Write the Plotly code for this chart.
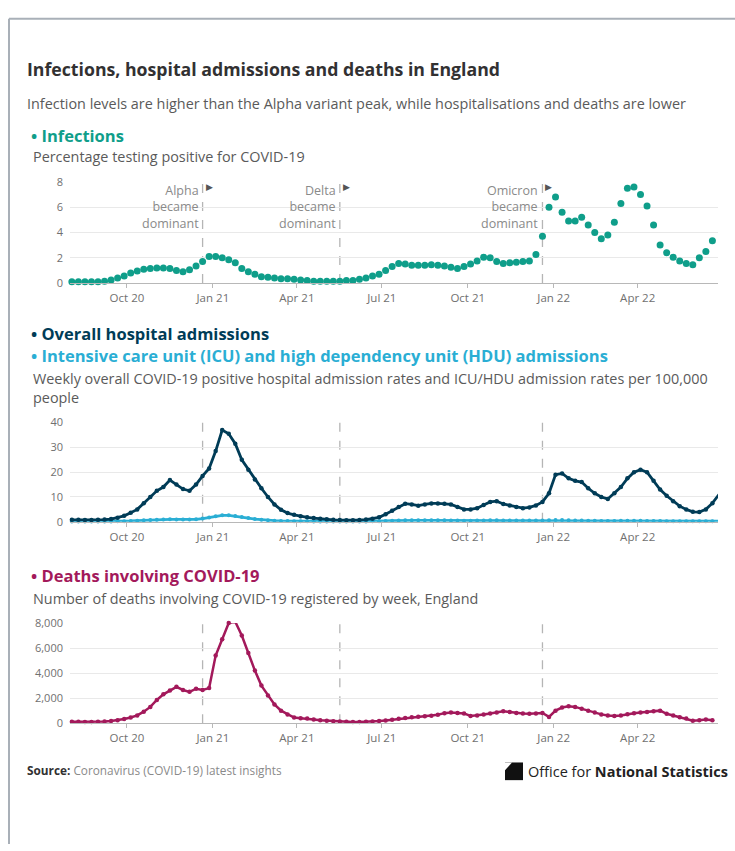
import pandas as pd
import plotly.graph_objects as go

W, H = 735, 851

# ---------------- data ----------------
start_date = "2020-08-03"

infections_pct = [
    0.1, 0.1, 0.1, 0.1, 0.1, 0.15, 0.25, 0.4, 0.55, 0.8,
    0.95, 1.1, 1.15, 1.2, 1.2, 1.15, 1.0, 0.9, 1.05, 1.35,
    1.7, 2.1, 2.1, 2.0, 1.85, 1.6, 1.15, 0.9, 0.7, 0.5,
    0.45, 0.4, 0.35, 0.35, 0.3, 0.25, 0.2, 0.15, 0.15, 0.15,
    0.15, 0.15, 0.2, 0.2, 0.3, 0.4, 0.55, 0.7, 1.0, 1.3,
    1.55, 1.5, 1.4, 1.4, 1.4, 1.45, 1.4, 1.35, 1.25, 1.15,
    1.3, 1.5, 1.75, 2.05, 2.0, 1.7, 1.55, 1.6, 1.65, 1.7,
    1.75, 2.25, 3.7, 6.0, 6.8, 5.6, 4.9, 4.9, 5.2, 4.6,
    4.0, 3.5, 3.8, 4.8, 6.3, 7.5, 7.6, 7.0, 6.1, 4.6,
    3.0, 2.4, 2.05, 1.75, 1.55, 1.45, 2.0, 2.5, 3.35,
]

hospital_rate = [
    0.8, 0.8, 0.7, 0.7, 0.8, 0.9, 1.1, 1.6, 2.4, 3.6,
    5.0, 7.5, 10.0, 12.5, 14.0, 16.8, 15.0, 13.2, 12.5, 15.0,
    18.5, 21.5, 28.5, 37.0, 35.5, 31.5, 25.0, 21.0, 17.0, 13.5,
    10.0, 7.0, 4.8, 3.5, 2.8, 2.2, 1.8, 1.5, 1.2, 1.0,
    0.8, 0.7, 0.6, 0.6, 0.7, 0.9, 1.2, 1.8, 3.0, 4.4,
    6.0, 7.3, 7.0, 6.5, 7.0, 7.4, 7.4, 7.3, 7.0, 6.0,
    5.0, 5.0, 5.5, 6.8, 8.0, 8.3, 7.2, 6.6, 6.0, 5.5,
    5.8, 6.6, 8.0, 11.5, 19.0, 19.5, 17.5, 16.5, 16.0, 13.5,
    11.5, 10.0, 9.2, 11.5, 14.0, 17.5, 20.0, 21.0, 20.0, 16.5,
    13.0, 10.5, 8.3, 6.3, 5.0, 4.0, 3.9, 5.0, 7.5, 11.0,
]

icu_rate = [
    0.1, 0.1, 0.1, 0.1, 0.1, 0.1, 0.15, 0.2, 0.25, 0.35,
    0.45, 0.6, 0.75, 0.85, 0.9, 1.0, 0.95, 0.9, 0.9, 1.0,
    1.3, 1.7, 2.2, 2.6, 2.6, 2.3, 1.9, 1.5, 1.1, 0.8,
    0.6, 0.45, 0.35, 0.3, 0.25, 0.2, 0.2, 0.15, 0.15, 0.15,
    0.1, 0.1, 0.1, 0.1, 0.1, 0.15, 0.2, 0.25, 0.35, 0.45,
    0.55, 0.6, 0.6, 0.6, 0.6, 0.6, 0.6, 0.6, 0.55, 0.5,
    0.45, 0.45, 0.5, 0.55, 0.6, 0.6, 0.55, 0.5, 0.5, 0.5,
    0.5, 0.5, 0.5, 0.6, 0.7, 0.7, 0.6, 0.55, 0.5, 0.45,
    0.4, 0.35, 0.35, 0.35, 0.4, 0.4, 0.4, 0.4, 0.35, 0.3,
    0.3, 0.25, 0.2, 0.2, 0.2, 0.2, 0.2, 0.2, 0.25, 0.3,
]

deaths_weekly = [
    120, 110, 100, 100, 110, 130, 170, 230, 330, 450,
    620, 920, 1300, 1850, 2300, 2600, 2900, 2650, 2500, 2750,
    2650, 2800, 5400, 6700, 8000, 8100, 7000, 5600, 4200, 3000,
    2200, 1500, 1000, 700, 450, 400, 380, 300, 230, 200,
    160, 140, 120, 100, 100, 110, 130, 170, 220, 280,
    350, 420, 480, 520, 560, 600, 680, 800, 850, 820,
    780, 580, 620, 700, 780, 860, 950, 900, 820, 780,
    760, 780, 820, 500, 1000, 1250, 1350, 1300, 1150, 1000,
    850, 700, 620, 580, 620, 720, 800, 850, 900, 950,
    1000, 750, 620, 480, 380, 200, 230, 300, 230,
]

infection_dates = pd.date_range(start_date, periods=len(infections_pct), freq="7D")
hospital_dates = pd.date_range(start_date, periods=len(hospital_rate), freq="7D")
deaths_dates = pd.date_range(start_date, periods=len(deaths_weekly), freq="7D")

tick_dates = ["2020-10-01", "2021-01-01", "2021-04-01", "2021-07-01",
              "2021-10-01", "2022-01-01", "2022-04-01"]
tick_labels = ["Oct 20", "Jan 21", "Apr 21", "Jul 21", "Oct 21", "Jan 22", "Apr 22"]

variant_dates = ["2020-12-21", "2021-05-17", "2021-12-20"]
variant_names = ["Alpha", "Delta", "Omicron"]

inf_ticks = [0, 2, 4, 6, 8]
hosp_ticks = [0, 10, 20, 30, 40]
death_ticks = [0, 2000, 4000, 6000, 8000]

# ---------------- styling ----------------
FONT = "Open Sans"
C_INF = "#0f9e8a"
C_HOSP = "#003c57"
C_ICU = "#2aaed4"
C_DEATH = "#a3195b"
C_TEXT = "#323132"
C_SUB = "#5a5a5a"
C_TICK = "#707070"
C_GRID = "#e9e9e9"
C_AXIS = "#b8b8b8"


def fx(px):
    return px / W


def fy(py):
    return 1 - py / H


fig = go.Figure()

fig.add_trace(go.Scatter(
    x=infection_dates, y=infections_pct, mode="markers",
    marker=dict(size=7, color=C_INF), xaxis="x", yaxis="y",
    cliponaxis=False, showlegend=False, name="Infections"))

fig.add_trace(go.Scatter(
    x=hospital_dates, y=icu_rate, mode="lines+markers",
    line=dict(color=C_ICU, width=2.8), marker=dict(size=4, color=C_ICU),
    xaxis="x2", yaxis="y2", cliponaxis=False, showlegend=False, name="ICU/HDU"))

fig.add_trace(go.Scatter(
    x=hospital_dates, y=hospital_rate, mode="lines+markers",
    line=dict(color=C_HOSP, width=2.8), marker=dict(size=4.5, color=C_HOSP),
    xaxis="x2", yaxis="y2", cliponaxis=False, showlegend=False, name="Overall"))

fig.add_trace(go.Scatter(
    x=deaths_dates, y=deaths_weekly, mode="lines+markers",
    line=dict(color=C_DEATH, width=2.5), marker=dict(size=4.5, color=C_DEATH),
    xaxis="x3", yaxis="y3", cliponaxis=False, showlegend=False, name="Deaths"))

x_range = ["2020-08-01", "2022-06-26"]
x_dom = [fx(70), fx(718)]


def xaxis(anchor):
    return dict(domain=x_dom, range=x_range, anchor=anchor, type="date",
                tickvals=tick_dates, ticktext=tick_labels,
                showgrid=False, showline=True, linecolor=C_AXIS, linewidth=1,
                ticks="outside", ticklen=4, tickcolor=C_AXIS,
                tickfont=dict(family=FONT, size=11.5, color=C_TICK),
                zeroline=False, fixedrange=True)


def yaxis(anchor, rng, dom, tickvals, ticktext):
    return dict(domain=dom, range=rng, anchor=anchor,
                tickvals=tickvals, ticktext=ticktext,
                showgrid=True, gridcolor=C_GRID, gridwidth=1,
                showline=False, zeroline=False, ticks="",
                ticklabelstandoff=6,
                tickfont=dict(family=FONT, size=11, color=C_TICK),
                fixedrange=True)


fig.update_layout(
    width=W, height=H, margin=dict(l=0, r=0, t=0, b=0),
    paper_bgcolor="white", plot_bgcolor="white",
    xaxis=xaxis("y"),
    xaxis2=xaxis("y2"),
    xaxis3=xaxis("y3"),
    yaxis=yaxis("x", [0, 8], [fy(280), fy(177)], inf_ticks,
                [str(v) for v in inf_ticks]),
    yaxis2=yaxis("x2", [0, 40], [fy(523), fy(422)], hosp_ticks,
                 [str(v) for v in hosp_ticks]),
    yaxis3=yaxis("x3", [0, 8000], [fy(728), fy(626)], death_ticks,
                  [f"{v:,}" for v in death_ticks]),
)

shapes = []
annotations = []

# dashed variant lines
for xr, yr in [("x", "y domain"), ("x2", "y2 domain"), ("x3", "y3 domain")]:
    for d in variant_dates:
        shapes.append(dict(type="line", xref=xr, yref=yr, x0=d, x1=d, y0=0, y1=1,
                           line=dict(color="#b5b5b5", width=1.3, dash="dash"),
                           layer="below"))

# variant annotations (infections panel)
for d, name in zip(variant_dates, variant_names):
    annotations.append(dict(x=d, y=fy(175), xref="x", yref="paper",
                            text=f"{name}<br>became<br>dominant", align="right",
                            showarrow=False, xanchor="right", yanchor="top",
                            xshift=-2,
                            font=dict(family=FONT, size=12.5, color="#8a8a8a")))
    annotations.append(dict(x=d, y=fy(182), xref="x", yref="paper", text="▶",
                            showarrow=False, xanchor="left", yanchor="middle",
                            xshift=1, font=dict(family="DejaVu Sans", size=9,
                                                color="#555555")))


def label(px, py, text, size, color, bold=False):
    annotations.append(dict(x=fx(px), y=fy(py), xref="paper", yref="paper",
                            text=f"<b>{text}</b>" if bold else text,
                            showarrow=False, xanchor="left", yanchor="middle",
                            font=dict(family=FONT, size=size, color=color)))


label(25, 62, "Infections, hospital admissions and deaths in England", 17.7, C_TEXT, True)
label(25, 97, "Infection levels are higher than the Alpha variant peak, while "
              "hospitalisations and deaths are lower", 14.4, C_SUB)
label(29, 130, "• Infections", 16.5, C_INF, True)
label(31, 151, "Percentage testing positive for COVID-19", 14.4, C_SUB)
label(29, 331, "• Overall hospital admissions", 16.5, C_HOSP, True)
label(29, 354, "• Intensive care unit (ICU) and high dependency unit (HDU) admissions",
      16.5, C_ICU, True)
label(31, 377, "Weekly overall COVID-19 positive hospital admission rates and "
               "ICU/HDU admission rates per 100,000", 14.4, C_SUB)
label(31, 396, "people", 14.4, C_SUB)
label(29, 578, "• Deaths involving COVID-19", 16.5, C_DEATH, True)
label(31, 601, "Number of deaths involving COVID-19 registered by week, England", 14.4, C_SUB)

annotations.append(dict(x=fx(25), y=fy(776), xref="paper", yref="paper",
                        text="<b>Source:</b> <span style='color:#8a8a8a'>Coronavirus "
                             "(COVID-19) latest insights</span>",
                        showarrow=False, xanchor="left", yanchor="middle",
                        font=dict(family=FONT, size=11.8, color=C_TEXT)))
annotations.append(dict(x=fx(526), y=fy(777), xref="paper", yref="paper",
                        text="Office for <b>National Statistics</b>",
                        showarrow=False, xanchor="left", yanchor="middle",
                        font=dict(family=FONT, size=14.5, color="#222222")))

# ONS logo mark
shapes.append(dict(type="path", xref="paper", yref="paper",
                   path=(f"M {fx(505)} {fy(768)} L {fx(523)} {fy(768)} "
                         f"L {fx(523)} {fy(786)} L {fx(505)} {fy(786)} Z"),
                   fillcolor="#111111", line=dict(width=0)))
shapes.append(dict(type="path", xref="paper", yref="paper",
                   path=(f"M {fx(505)} {fy(768)} L {fx(512)} {fy(768)} "
                         f"L {fx(505)} {fy(776)} Z"),
                   fillcolor="white", line=dict(width=0)))

# frame lines (left and top)
shapes.append(dict(type="line", xref="paper", yref="paper",
                   x0=fx(9), x1=fx(9), y0=0, y1=fy(11),
                   line=dict(color="#a9b0b8", width=2)))
shapes.append(dict(type="line", xref="paper", yref="paper",
                   x0=fx(9), x1=1, y0=fy(11), y1=fy(11),
                   line=dict(color="#a9b0b8", width=2)))

fig.update_layout(shapes=shapes, annotations=annotations)

fig.write_html(
    "out.html",
    config={"displayModeBar": False},
    post_script=("document.body.style.margin='0';"
                 "document.body.style.overflow='hidden';"
                 "var d=document.getElementById('{plot_id}');"
                 "d.style.position='absolute';d.style.left='0px';d.style.top='0px';"),
)
